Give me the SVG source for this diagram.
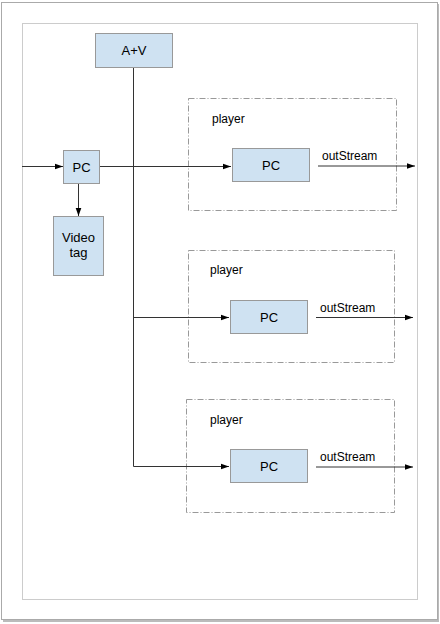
<svg xmlns="http://www.w3.org/2000/svg" width="440" height="624" viewBox="0 0 440 624">
<defs>
<style>
.node rect{fill:#cfe2f2;stroke:#999;stroke-width:1}
.t{font-family:"Liberation Sans",Arial,sans-serif;font-size:12px;fill:#000}
.node text{font-size:13px}
.c{text-anchor:middle}
.grp rect{fill:none;stroke:#999;stroke-width:1;stroke-dasharray:6,2,1,2}
.conn path{fill:none;stroke:#333;stroke-width:1}
</style>
<marker id="ah" viewBox="0 0 10 10" refX="10" refY="5" markerWidth="8" markerHeight="8" markerUnits="userSpaceOnUse" orient="auto">
<path d="M0,1.5 L10,5 L0,8.5 z" fill="#000"/>
</marker>
</defs>
<rect x="0" y="0" width="440" height="624" fill="#fff"/>
<rect x="3" y="4" width="436" height="618" fill="#bbb"/>
<rect x="1.5" y="2.5" width="436" height="617" fill="#fff" stroke="#aaa"/>
<rect x="22.5" y="23.5" width="395" height="576" fill="#fff" stroke="#ccc"/>

<g id="player1" class="grp"><rect x="188.5" y="98.5" width="208" height="112"/><text class="t" x="212" y="123">player</text></g>
<g id="player2" class="grp"><rect x="188.5" y="250.5" width="206" height="112"/><text class="t" x="210" y="274">player</text></g>
<g id="player3" class="grp"><rect x="186.5" y="399.5" width="208" height="113"/><text class="t" x="210" y="424">player</text></g>

<g class="conn">
<path d="M22,166.5 H63" marker-end="url(#ah)"/>
<path d="M78.5,183 V216" marker-end="url(#ah)"/>
<path d="M133.5,67 V466.5"/>
<path d="M99,166.5 H231" marker-end="url(#ah)"/>
<path d="M133.5,317.5 H229" marker-end="url(#ah)"/>
<path d="M133.5,466.5 H229" marker-end="url(#ah)"/>
<path d="M318,166 H415" marker-end="url(#ah)"/>
<path d="M316,317.5 H413" marker-end="url(#ah)"/>
<path d="M316,467 H413" marker-end="url(#ah)"/>
<text class="t" x="322" y="160">outStream</text>
<text class="t" x="320" y="312">outStream</text>
<text class="t" x="320" y="461">outStream</text>
</g>

<g id="av" class="node"><rect x="95.5" y="33.5" width="77" height="34"/><text class="t c" x="134" y="55">A+V</text></g>
<g id="pc0" class="node"><rect x="63.5" y="150.5" width="36" height="33"/><text class="t c" x="81.5" y="171.5">PC</text></g>
<g id="videotag" class="node"><rect x="53.5" y="216.5" width="50" height="59"/><text class="t c" x="78.5" y="242">Video</text><text class="t c" x="78.5" y="257">tag</text></g>
<g id="pc1" class="node"><rect x="232.5" y="148.5" width="77" height="33"/><text class="t c" x="271" y="169.5">PC</text></g>
<g id="pc2" class="node"><rect x="230.5" y="300.5" width="77" height="33"/><text class="t c" x="269" y="321.5">PC</text></g>
<g id="pc3" class="node"><rect x="230.5" y="449.5" width="77" height="33"/><text class="t c" x="269" y="470.5">PC</text></g>
</svg>
